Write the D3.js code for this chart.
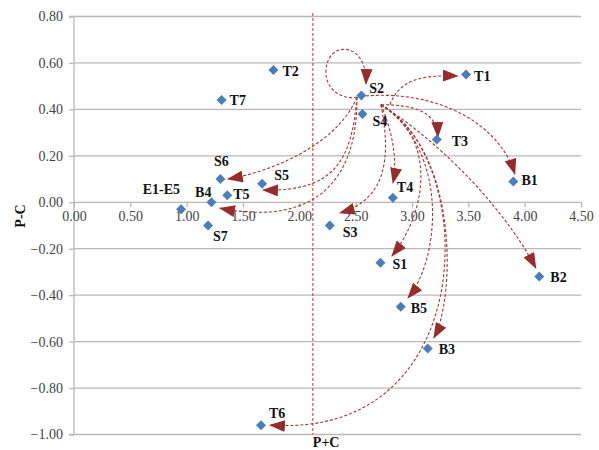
<!DOCTYPE html>
<html><head><meta charset="utf-8">
<script src="https://cdn.jsdelivr.net/npm/d3@7"></script>
<style>
body{margin:0;background:#fff;}
svg{display:block;}
</style></head>
<body>
<svg id="chart" width="599" height="450"></svg>
<script>
// ---- data ----
const names = ["T1","T2","T3","T4","T5","T6","T7","S1","S2","S3","S4","S5","S6","S7","B1","B2","B3","B4","B5","E1-E5"];
const pPlusC = [3.48,1.77,3.22,2.83,1.36,1.66,1.31,2.72,2.55,2.27,2.56,1.67,1.30,1.19,3.90,4.13,3.14,1.22,2.90,0.95];
const pMinusC = [0.55,0.57,0.27,0.02,0.03,-0.96,0.44,-0.26,0.46,-0.10,0.38,0.08,0.10,-0.10,0.09,-0.32,-0.63,0.00,-0.45,-0.03];
const xTicks = [0,0.5,1,1.5,2,2.5,3,3.5,4,4.5];
const yTicks = [0.8,0.6,0.4,0.2,0,-0.2,-0.4,-0.6,-0.8,-1.0];
const meanPC = 2.12;
// influence arrows (cubic segments in data units: start, c1, c2, end, [c1, c2, end ...])
const arrows = [
  [[2.511,0.453],[2.405,0.441],[2.236,0.475],[2.236,0.561],[2.236,0.699],[2.609,0.699],[2.591,0.509]],
  [[2.511,0.453],[2.360,0.268],[1.828,0.139],[1.366,0.100]],
  [[2.511,0.453],[2.467,0.182],[2.316,0.044],[1.677,0.053]],
  [[2.511,0.453],[2.520,0.118],[2.183,-0.111],[1.295,-0.025]],
  [[2.724,0.420],[2.822,0.182],[2.760,0.010],[2.360,-0.046]],
  [[2.724,0.420],[2.822,0.311],[2.875,0.182],[2.831,0.083]],
  [[2.724,0.420],[3.248,0.268],[3.114,-0.055],[2.822,-0.231]],
  [[2.724,0.420],[3.336,0.225],[3.248,-0.249],[2.964,-0.412]],
  [[2.724,0.420],[3.425,0.225],[3.381,-0.421],[3.194,-0.584]],
  [[2.724,0.420],[3.603,0.182],[3.603,-1.024],[1.739,-0.959]],
  [[2.724,0.420],[3.026,0.420],[3.221,0.389],[3.230,0.281]],
  [[2.591,0.458],[3.248,0.483],[3.780,0.333],[3.913,0.122]],
  [[2.724,0.420],[3.159,0.290],[3.780,0.010],[4.099,-0.283]],
  [[2.804,0.420],[2.893,0.535],[3.114,0.548],[3.407,0.544]]
];
// label placement (style): [dx, dy, anchor]
const labelPos = {
  "T1":[8,6,"start"],"T2":[9,6,"start"],"T3":[15,6,"start"],"T4":[4,-6,"start"],"T5":[6,4,"start"],
  "T6":[8,-7,"start"],"T7":[8,5,"start"],"S1":[12,6,"start"],"S2":[8,-2,"start"],"S3":[13,11,"start"],
  "S4":[10,12,"start"],"S5":[12,-4,"start"],"S6":[1,-13,"middle"],"S7":[5,15,"start"],"B1":[8,4,"start"],
  "B2":[11,5,"start"],"B3":[11,5,"start"],"B4":[0,-5,"end"],"B5":[10,6,"start"],"E1-E5":[-1,-15,"end"]
};

// ---- drawing ----
const svg = d3.select("#chart");
const x = d3.scaleLinear().domain([0,4.5]).range([74,581]);
const y = d3.scaleLinear().domain([-1,0.8]).range([434.5,16.5]);
const serif = "'Liberation Serif','Times New Roman',serif";
const gridCol = "#b8b8b8";

// horizontal gridlines
svg.append("g").selectAll("line").data(yTicks.filter(d=>d!==0)).join("line")
  .attr("x1",x(0)).attr("x2",x(4.5)).attr("y1",d=>y(d)).attr("y2",d=>y(d))
  .attr("stroke",gridCol).attr("stroke-width",1.3);

// y axis
const yAxis = svg.append("g").attr("transform",`translate(${x(0)},0)`)
  .call(d3.axisLeft(y).tickValues(yTicks).tickFormat(d3.format(".2f")).tickSize(5).tickPadding(6));
yAxis.select(".domain").attr("stroke",gridCol).attr("stroke-width",1.3).attr("d",`M-5,${y(0.8)}H0V${y(-1)}H-5`);
yAxis.selectAll(".tick line").attr("stroke",gridCol).attr("stroke-width",1.3);
yAxis.selectAll("text").attr("font-family",serif).attr("font-size",14).attr("fill","#444");

// x axis at y = 0
const xAxis = svg.append("g").attr("transform",`translate(0,${y(0)})`)
  .call(d3.axisBottom(x).tickValues(xTicks).tickFormat(d3.format(".2f")).tickSize(5).tickPadding(4));
xAxis.select(".domain").attr("stroke",gridCol).attr("stroke-width",1.3).attr("d",`M${x(0)},0H${x(4.5)}`);
xAxis.selectAll(".tick line").attr("stroke",gridCol).attr("stroke-width",1.3);
xAxis.selectAll("text").attr("font-family",serif).attr("font-size",14).attr("fill","#444");

// mean P+C dashed line
svg.append("line").attr("x1",x(meanPC)).attr("x2",x(meanPC)).attr("y1",y(0.815)).attr("y2",y(-1))
  .attr("stroke","#b03a3a").attr("stroke-width",1).attr("stroke-dasharray","3,2");

// arrow marker
svg.append("defs").append("marker").attr("id","ah")
  .attr("viewBox","0 0 16 12").attr("refX",15).attr("refY",6)
  .attr("markerWidth",16).attr("markerHeight",12).attr("markerUnits","userSpaceOnUse")
  .attr("orient","auto")
  .append("path").attr("d","M0,0L16,6L0,12Z").attr("fill","#962c2c");

function arrowPath(pts){
  const p = d3.path();
  p.moveTo(x(pts[0][0]),y(pts[0][1]));
  for(let i=1;i+2<pts.length;i+=3){
    p.bezierCurveTo(x(pts[i][0]),y(pts[i][1]),x(pts[i+1][0]),y(pts[i+1][1]),x(pts[i+2][0]),y(pts[i+2][1]));
  }
  return p.toString();
}
svg.append("g").selectAll("path").data(arrows).join("path")
  .attr("d",arrowPath).attr("fill","none").attr("stroke","#a83535").attr("stroke-width",1.1)
  .attr("stroke-dasharray","3,2").attr("marker-end","url(#ah)");

// points
const pts = names.map((n,i)=>({n, x:pPlusC[i], y:pMinusC[i]}));
svg.append("g").selectAll("path").data(pts).join("path")
  .attr("transform",d=>`translate(${x(d.x)},${y(d.y)})`)
  .attr("d","M0,-5L5,0L0,5L-5,0Z").attr("fill","#4a7ebb");

svg.append("g").selectAll("text").data(pts).join("text")
  .attr("x",d=>x(d.x)+labelPos[d.n][0]).attr("y",d=>y(d.y)+labelPos[d.n][1])
  .attr("text-anchor",d=>labelPos[d.n][2])
  .attr("font-family",serif).attr("font-weight","bold").attr("font-size",14).attr("fill","#111")
  .text(d=>d.n);

// axis titles
svg.append("text").attr("x",x(meanPC)).attr("y",447)
  .attr("font-family",serif).attr("font-weight","bold").attr("font-size",14).attr("fill","#111").text("P+C");
svg.append("text").attr("transform","translate(25,216) rotate(-90)").attr("text-anchor","middle")
  .attr("font-family",serif).attr("font-weight","bold").attr("font-size",14).attr("fill","#111").text("P-C");
</script>
</body></html>
